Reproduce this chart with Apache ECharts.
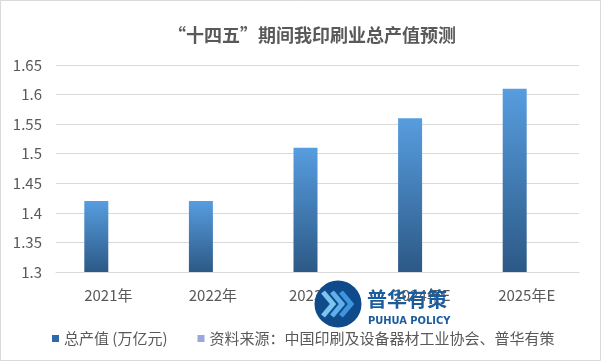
<!DOCTYPE html>
<html><head><meta charset="utf-8">
<script src="https://cdn.jsdelivr.net/npm/echarts@6/dist/echarts.min.js"></script>
<style>html,body{margin:0;padding:0;background:#fff}#c{width:601px;height:361px}</style>
</head><body><div id="c"></div>
<script>
const categories = ['2021年','2022年','2023年E','2024年E','2025年E'];
const totalOutput = [1.42, 1.42, 1.51, 1.56, 1.61];
const sourceSeries = [null, null, null, null, null];
const yTicks = [1.3, 1.65, 0.05];
const seriesNames = ['总产值 (万亿元)','资料来源：中国印刷及设备器材工业协会、普华有策'];
const titleText = '“十四五”期间我印刷业总产值预测';

const chart = echarts.init(document.getElementById('c'), null, {renderer:'canvas'});
const font = '"Microsoft YaHei","Noto Sans CJK SC",sans-serif';
chart.setOption({
  animation:false,
  backgroundColor:'#fff',
  title:{text:titleText,left:163,top:21,textStyle:{fontFamily:font,fontSize:18,fontWeight:'bold',color:'#595959'}},
  grid:{left:56,right:22,top:65,bottom:89,containLabel:false},
  legend:{top:326,left:47,itemWidth:7,itemHeight:7,itemGap:30,icon:'rect',
    textStyle:{fontFamily:font,fontSize:15,color:'#595959'},
    data:[{name:seriesNames[0],itemStyle:{color:'#2f6aa8'}},{name:seriesNames[1],itemStyle:{color:'#97a9d6'}}]},
  xAxis:{type:'category',data:categories,axisTick:{show:false},
    axisLine:{lineStyle:{color:'#d9d9d9'}},
    axisLabel:{fontFamily:font,fontSize:15,color:'#595959',margin:16}},
  yAxis:{type:'value',min:yTicks[0],max:yTicks[1],interval:yTicks[2],
    axisLine:{show:false},axisTick:{show:false},
    splitLine:{lineStyle:{color:'#d9d9d9'}},
    axisLabel:{fontFamily:font,fontSize:15,color:'#595959',margin:14,formatter:v=>String(+v.toFixed(2))}},
  series:[
    {name:seriesNames[0],type:'bar',data:totalOutput,barWidth:24,barGap:'0%',
     itemStyle:{color:new echarts.graphic.LinearGradient(0,0,0,1,[{offset:0,color:'#579ddf'},{offset:1,color:'#2c5986'}])}},
    {name:seriesNames[1],type:'bar',data:sourceSeries,barWidth:24,itemStyle:{color:'#97a9d6'}}
  ],
  graphic:[
    {type:'rect',shape:{x:0.5,y:0.5,width:600,height:360},style:{fill:null,stroke:'#d9d9d9',lineWidth:1},z:0,silent:true},
    {type:'circle',shape:{cx:338,cy:304,r:23.5},style:{fill:'#0f4a8a'},z:100},
    {type:'polyline',shape:{points:[[323,292],[333,304],[323,316]]},style:{stroke:'#7cc3f0',lineWidth:5,fill:null},z:101},
    {type:'polyline',shape:{points:[[332,292],[342,304],[332,316]]},style:{stroke:'#5fb0ea',lineWidth:5,fill:null},z:101},
    {type:'polyline',shape:{points:[[341,292],[351,304],[341,316]]},style:{stroke:'#3d95dc',lineWidth:5,fill:null},z:101},
    {type:'text',left:367,top:289,style:{text:'普华有策',font:'bold 20px '+font,fill:'#1a5c9e'},z:101},
    {type:'text',left:368,top:316,style:{text:'PUHUA POLICY',font:'bold 11px "Liberation Sans Narrow","DejaVu Sans Condensed",sans-serif',fill:'#1a5c9e'},z:101}
  ]
});
</script></body></html>
